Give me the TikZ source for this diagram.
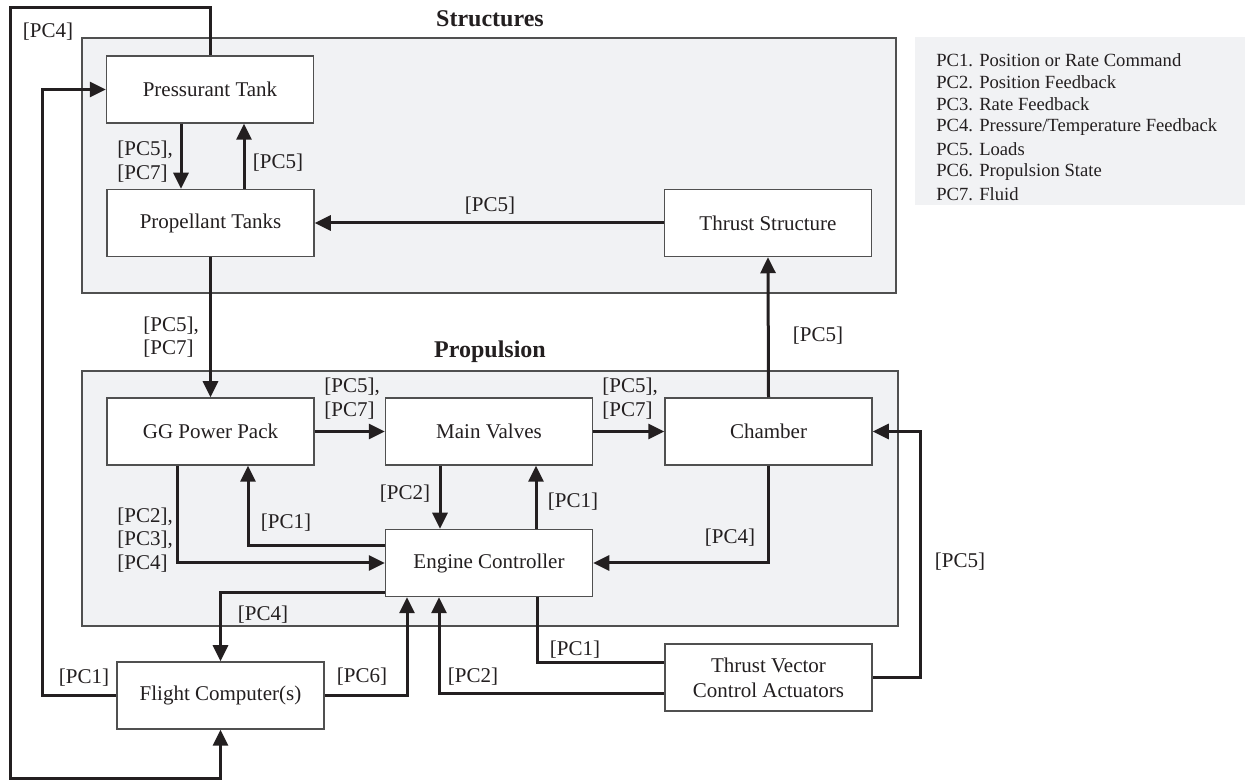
\documentclass[tikz,border=0pt]{standalone}
\usepackage{fontspec}
\setmainfont{Liberation Serif}
\usetikzlibrary{arrows.meta,calc}
\definecolor{panelfill}{HTML}{F1F2F4}
\definecolor{edgegray}{HTML}{505050}
\definecolor{ink}{HTML}{231F20}
\begin{document}
\begin{tikzpicture}[x=0.5pt,y=-0.5pt,
  box/.style={draw=edgegray,line width=0.75pt,fill=white,minimum width=103.5pt,minimum height=33.5pt,inner sep=0pt,align=center,font=\fontsize{10.5}{12.5}\selectfont,text=ink},
  panel/.style={draw=edgegray,line width=0.75pt,fill=panelfill},
  conn/.style={draw=ink,line width=1.5pt,-{Triangle[length=8pt,width=7.5pt]}},
  plainconn/.style={draw=ink,line width=1.5pt},
  lbl/.style={font=\fontsize{10.5}{11.8}\selectfont,text=ink,inner sep=0pt,align=left},
  ttl/.style={font=\fontsize{12}{14}\selectfont\bfseries,text=ink,inner sep=0pt},
  leg/.style={font=\fontsize{9.3}{11}\selectfont,text=ink,anchor=west,inner sep=0pt}]
\useasboundingbox (0,0) rectangle (1249,780);
\fill[white] (0,0) rectangle (1249,780);

% panels
\path[panel] (82,38) rectangle (896,293);
\path[panel] (82,371) rectangle (898,626);
\node[ttl] (tS) at (490,19) {Structures};
\node[ttl] (tP) at (490,352) {Propulsion};

% legend
\fill[panelfill] (915,37) rectangle (1245,205);
\node[leg] (l1) at (936,60) {PC1. Position or Rate Command};
\node[leg] (l2) at (936,82) {PC2. Position Feedback};
\node[leg] (l3) at (936,104.5) {PC3. Rate Feedback};
\node[leg] (l4) at (936,127) {PC4. Pressure/Temperature Feedback};
\node[leg] (l5) at (936,149.5) {PC5. Loads};
\node[leg] (l6) at (936,172) {PC6. Propulsion State};
\node[leg] (l7) at (936,194) {PC7. Fluid};

% boxes
\node[box] (PT) at (210,89.5) {Pressurant Tank};
\node[box] (PropT) at (210.5,223) {Propellant Tanks};
\node[box] (TS) at (768,223) {Thrust Structure};
\node[box] (GG) at (210.5,431.5) {GG Power Pack};
\node[box] (MV) at (489,431.5) {Main Valves};
\node[box] (CH) at (768.5,431.5) {Chamber};
\node[box] (EC) at (489,563) {Engine Controller};
\node[box] (FC) at (220.5,695.5) {Flight Computer(s)};
\node[box] (TVC) at (768.5,677.5) {Thrust Vector\\Control Actuators};

% lane coordinates
\coordinate (t1) at (10,8);
\coordinate (b1) at (10,778);
\coordinate (x42) at (42,0);
\coordinate (x181) at (181,0);
\coordinate (x244) at (244,0);
\coordinate (x440) at (440,0);
\coordinate (x536) at (536,0);
\coordinate (k12) at (248,546);
\coordinate (x177) at (177,0);
\coordinate (k15) at (221,593);
\coordinate (x407) at (407,0);
\coordinate (k17) at (439,694);
\coordinate (k18) at (537,663);
\coordinate (x920) at (920,0);

% connectors
\draw[conn] (PT.north) |- (t1) -- (b1) -| (FC.south);
\draw[conn] (FC.west) -- (FC.west -| x42) |- (PT.west);
\draw[conn] (PT.south -| x181) -- (PropT.north -| x181);
\draw[conn] (PropT.north -| x244) -- (PT.south -| x244);
\draw[conn] (TS.west) -- (PropT.east);
\draw[conn] (PropT.south) -- (GG.north);
\draw[conn] (CH.north) -- (TS.south);
\draw[conn] (GG.east) -- (MV.west);
\draw[conn] (MV.east) -- (CH.west);
\draw[conn] (MV.south -| x440) -- (EC.north -| x440);
\draw[conn] (EC.north -| x536) -- (MV.south -| x536);
\draw[conn] (EC.west |- k12) -| (GG.south -| k12);
\draw[conn] (GG.south -| x177) |- (EC.west);
\draw[conn] (CH.south) |- (EC.east);
\draw[conn] (EC.west |- k15) -| (FC.north);
\draw[conn] (FC.east) -| (EC.south -| x407);
\draw[conn] (TVC.west |- k17) -| (EC.south -| k17);
\draw[plainconn] (EC.south -| k18) |- (TVC.west |- k18);
\draw[conn] (TVC.east) -| (x920 |- CH.east) -- (CH.east);

% labels
\node[lbl] (a1) at (48,32) {[PC4]};
\node[lbl] (a2) at (84,678) {[PC1]};
\node[lbl,anchor=west] (a3) at (117,161.5) {[PC5],\\{[PC7]}};
\node[lbl] (a4) at (278,163) {[PC5]};
\node[lbl] (a5) at (490,206) {[PC5]};
\node[lbl,anchor=west] (a6) at (143,337) {[PC5],\\{[PC7]}};
\node[lbl] (a7) at (818,336) {[PC5]};
\node[lbl,anchor=west] (a8) at (324,398.5) {[PC5],\\{[PC7]}};
\node[lbl,anchor=west] (a9) at (602,398.5) {[PC5],\\{[PC7]}};
\node[lbl] (a10) at (405,494) {[PC2]};
\node[lbl] (a11) at (573,502) {[PC1]};
\node[lbl] (a12) at (286,523) {[PC1]};
\node[lbl,anchor=west] (a13) at (117,540) {[PC2],\\{[PC3],}\\{[PC4]}};
\node[lbl] (a14) at (730,538) {[PC4]};
\node[lbl] (a15) at (263,615) {[PC4]};
\node[lbl] (a16) at (362,677) {[PC6]};
\node[lbl] (a17) at (473,677) {[PC2]};
\node[lbl] (a18) at (575,650) {[PC1]};
\node[lbl] (a19) at (960,562) {[PC5]};
\end{tikzpicture}
\end{document}
